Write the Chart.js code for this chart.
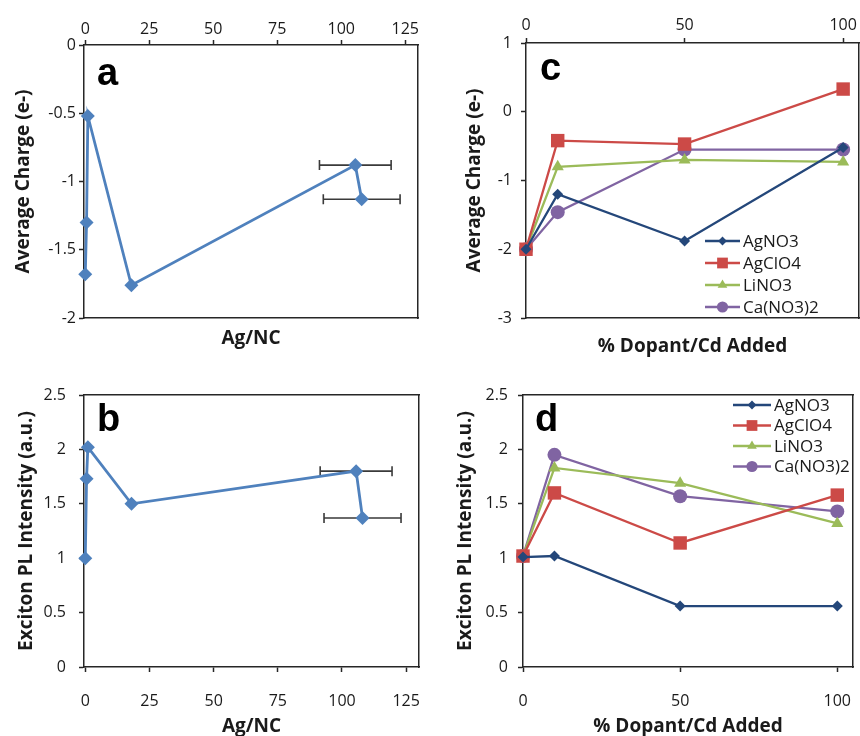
<!DOCTYPE html>
<html>
<head>
<meta charset="utf-8">
<script src="https://cdn.jsdelivr.net/npm/chart.js@4.4.0/dist/chart.umd.min.js"></script>
<style>
  body { margin: 0; background: #fff; }
  #wrap { position: relative; width: 860px; height: 736px; overflow: hidden; }
  canvas { position: absolute; }
</style>
</head>
<body>
<div id="wrap">
  <canvas id="chartA" width="430" height="360" style="left:0;top:0"></canvas>
  <canvas id="chartC" width="430" height="360" style="left:430px;top:0"></canvas>
  <canvas id="chartB" width="430" height="366" style="left:0;top:370px"></canvas>
  <canvas id="chartD" width="430" height="366" style="left:430px;top:370px"></canvas>
</div>
<script>
"use strict";

// panels a, b: vs Ag per nanocrystal
var agPerNC    = [0, 0.5, 1, 18, 105.5, 108];
var agPerNCErr = [0, 0, 0, 0, 14, 15];
var chargeVsAg = [-1.68, -1.3, -0.52, -1.76, -0.88, -1.13];
var plVsAg     = [1.0, 1.73, 2.02, 1.5, 1.8, 1.37];
var agTicks    = [0, 25, 50, 75, 100, 125];

// panels c, d: vs % dopant added
var dopantPct  = [0, 10, 50, 100];
var pctTicks   = [0, 50, 100];
var saltNames  = ['AgNO3', 'AgClO4', 'LiNO3', 'Ca(NO3)2'];
var chargeAgNO3  = [-2, -1.2, -1.88, -0.52];
var chargeAgClO4 = [-2, -0.42, -0.47, 0.33];
var chargeLiNO3  = [-2, -0.8, -0.7, -0.73];
var chargeCaNO32 = [-2, -1.46, -0.55, -0.55];
var plAgNO3  = [1.01, 1.02, 0.56, 0.56];
var plAgClO4 = [1.02, 1.6, 1.14, 1.58];
var plLiNO3  = [1.02, 1.83, 1.69, 1.32];
var plCaNO32 = [1.02, 1.95, 1.57, 1.43];

var FONT = "'Open Sans', sans-serif";
var axisColor = '#262626';
var textColor = '#1a1a1a';
var saltColors = ['#24477a', '#cc4a47', '#9bbb59', '#8064a2'];
var saltMarkers = ['rectRot', 'rect', 'triangle', 'circle'];
var saltRadius = [5.5, 9.5, 7, 7];

Chart.defaults.font.family = FONT;
Chart.defaults.color = textColor;

function xy(xs, ys) {
    return xs.map(function (x, i) { return { x: x, y: ys[i] }; });
}

function fmt(v) { return String(+v.toFixed(3)); }

// horizontal error bars on the first dataset
var errorBars = {
    id: 'errorBars',
    beforeDatasetsDraw: function (chart, args, opts) {
        if (!opts.err) return;
        var ctx = chart.ctx, xs = chart.scales.x, ys = chart.scales.y;
        var pts = chart.data.datasets[0].data;
        ctx.save();
        ctx.strokeStyle = '#3a3a3a';
        ctx.lineWidth = 1.6;
        pts.forEach(function (p, i) {
            var e = opts.err[i];
            if (!e) return;
            var x1 = xs.getPixelForValue(p.x - e), x2 = xs.getPixelForValue(p.x + e);
            var y = ys.getPixelForValue(p.y);
            ctx.beginPath();
            ctx.moveTo(x1, y); ctx.lineTo(x2, y);
            ctx.moveTo(x1, y - 5); ctx.lineTo(x1, y + 5);
            ctx.moveTo(x2, y - 5); ctx.lineTo(x2, y + 5);
            ctx.stroke();
        });
        ctx.restore();
    }
};

// big panel letter in the plot corner
var panelLetter = {
    id: 'panelLetter',
    afterDraw: function (chart, args, opts) {
        if (!opts.text) return;
        var ctx = chart.ctx, a = chart.chartArea;
        ctx.save();
        ctx.font = 'bold 38px "Liberation Sans", Arial, sans-serif';
        ctx.fillStyle = '#000';
        ctx.textBaseline = 'alphabetic';
        ctx.fillText(opts.text, a.left + opts.dx, a.top + opts.dy);
        ctx.restore();
    }
};

// legend drawn inside the plot area
var innerLegend = {
    id: 'innerLegend',
    afterDraw: function (chart, args, opts) {
        if (!opts.show) return;
        var ctx = chart.ctx;
        ctx.save();
        ctx.font = opts.fontSize + 'px ' + FONT;
        ctx.textBaseline = 'middle';
        chart.data.datasets.forEach(function (ds, i) {
            var y = opts.y + i * opts.rowH;
            ctx.strokeStyle = ds.borderColor;
            ctx.lineWidth = ds.borderWidth;
            ctx.beginPath();
            ctx.moveTo(opts.x, y);
            ctx.lineTo(opts.x + opts.len, y);
            ctx.stroke();
            ctx.fillStyle = ds.pointBackgroundColor;
            Chart.helpers.drawPoint(ctx, {
                pointStyle: ds.pointStyle, radius: ds.pointRadius * 0.8,
                rotation: 0, borderWidth: 0
            }, opts.x + opts.len / 2, y);
            ctx.fillStyle = textColor;
            ctx.fillText(ds.label, opts.x + opts.len + 3, y + 1);
        });
        ctx.restore();
    }
};

Chart.register(errorBars, panelLetter, innerLegend);

// fixed axis box size, and no extra layout padding for overhanging labels
function fixSize(size) {
    return function (s) {
        if (s.isHorizontal()) s.height = size; else s.width = size;
        s.paddingLeft = 0; s.paddingRight = 0;
        s.paddingTop = 0; s.paddingBottom = 0;
    };
}

function frameAxis(pos, size, title, titlePad) {
    return {
        type: 'linear', position: pos, min: 0, max: 1,
        grid: { display: false },
        ticks: { display: false },
        border: { display: true, color: axisColor, width: 1.5 },
        title: {
            display: !!title, text: title || '',
            font: { size: 19, weight: 'bold' }, color: textColor,
            padding: { top: 0, bottom: titlePad || 0 }
        },
        afterFit: fixSize(size)
    };
}

function dataAxis(pos, size, min, max, tickList, tickPad, title, titlePad) {
    return {
        type: 'linear', position: pos, min: min, max: max,
        afterBuildTicks: function (s) {
            s.ticks = tickList.map(function (v) { return { value: v }; });
        },
        grid: {
            display: true, drawOnChartArea: false, drawTicks: true,
            tickLength: 5, tickWidth: 1.5, tickColor: axisColor
        },
        border: { display: true, color: axisColor, width: 1.5 },
        ticks: {
            padding: tickPad, font: { size: 16 }, color: textColor,
            maxRotation: 0, autoSkip: false, callback: fmt
        },
        title: {
            display: !!title, text: title || '',
            font: { size: 19, weight: 'bold' }, color: textColor,
            padding: { top: titlePad || 0, bottom: titlePad || 0 }
        },
        afterFit: fixSize(size)
    };
}

function agDataset(ys) {
    return [{
        label: 'data', data: xy(agPerNC, ys),
        borderColor: '#4f81bd', backgroundColor: '#4f81bd',
        borderWidth: 2.8, pointStyle: 'rectRot', pointRadius: 7,
        pointBackgroundColor: '#4f81bd', pointBorderWidth: 0,
        tension: 0, clip: false
    }];
}

function saltDatasets(series) {
    return series.map(function (ys, i) {
        return {
            label: saltNames[i], data: xy(dopantPct, ys),
            borderColor: saltColors[i], backgroundColor: saltColors[i],
            borderWidth: 2.3, pointStyle: saltMarkers[i], pointRadius: saltRadius[i],
            pointBackgroundColor: saltColors[i], pointBorderWidth: 0,
            tension: 0, clip: false
        };
    });
}

function baseOptions(pad, scales, plugins) {
    return {
        responsive: false, animation: false,
        layout: { padding: pad, autoPadding: false },
        scales: scales,
        plugins: Object.assign({
            legend: { display: false },
            tooltip: { enabled: false }
        }, plugins)
    };
}

// a: average charge vs Ag/NC
new Chart(document.getElementById('chartA'), {
    type: 'line',
    data: { datasets: agDataset(chargeVsAg) },
    options: baseOptions({ left: 0, right: 12, top: 0, bottom: 0 }, {
        x: dataAxis('top', 45, -0.5, 130, agTicks, 1),
        x2: frameAxis('bottom', 42, 'Ag/NC', 10),
        y: dataAxis('left', 84, -2, 0, [0, -0.5, -1, -1.5, -2], 3, 'Average Charge (e-)', 12),
        y2: frameAxis('right', 0)
    }, {
        errorBars: { err: agPerNCErr },
        panelLetter: { text: 'a', dx: 13, dy: 40 }
    })
});

// c: average charge vs % dopant
new Chart(document.getElementById('chartC'), {
    type: 'line',
    data: { datasets: saltDatasets([chargeAgNO3, chargeAgClO4, chargeLiNO3, chargeCaNO32]) },
    options: baseOptions({ left: 0, right: 1, top: 0, bottom: 0 }, {
        x: dataAxis('top', 43, 0, 105, pctTicks, 3),
        x2: frameAxis('bottom', 42, '% Dopant/Cd Added', 2),
        y: dataAxis('left', 96, -3, 1, [1, 0, -1, -2, -3], 9, 'Average Charge (e-)', 33),
        y2: frameAxis('right', 0)
    }, {
        panelLetter: { text: 'c', dx: 14, dy: 37 },
        innerLegend: { show: true, x: 275, y: 241, rowH: 22, len: 35, fontSize: 17 }
    })
});

// b: exciton PL vs Ag/NC
new Chart(document.getElementById('chartB'), {
    type: 'line',
    data: { datasets: agDataset(plVsAg) },
    options: baseOptions({ left: 0, right: 11, top: 0, bottom: 0 }, {
        x: dataAxis('bottom', 69, -0.5, 130, agTicks, 20, 'Ag/NC', -2),
        x2: frameAxis('top', 25),
        y: dataAxis('left', 84, 0, 2.5, [0, 0.5, 1, 1.5, 2, 2.5], 13, 'Exciton PL Intensity (a.u.)', 15),
        y2: frameAxis('right', 0)
    }, {
        errorBars: { err: agPerNCErr },
        panelLetter: { text: 'b', dx: 13, dy: 36 }
    })
});

// d: exciton PL vs % dopant
new Chart(document.getElementById('chartD'), {
    type: 'line',
    data: { datasets: saltDatasets([plAgNO3, plAgClO4, plLiNO3, plCaNO32]) },
    options: baseOptions({ left: 0, right: 7, top: 0, bottom: 0 }, {
        x: dataAxis('bottom', 69, 0, 105, pctTicks, 20, '% Dopant/Cd Added', -2),
        x2: frameAxis('top', 25),
        y: dataAxis('left', 93, 0, 2.5, [0, 0.5, 1, 1.5, 2, 2.5], 10, 'Exciton PL Intensity (a.u.)', 24),
        y2: frameAxis('right', 0)
    }, {
        panelLetter: { text: 'd', dx: 12, dy: 36 },
        innerLegend: { show: true, x: 303, y: 35, rowH: 20.5, len: 38, fontSize: 17 }
    })
});
</script>
</body>
</html>
